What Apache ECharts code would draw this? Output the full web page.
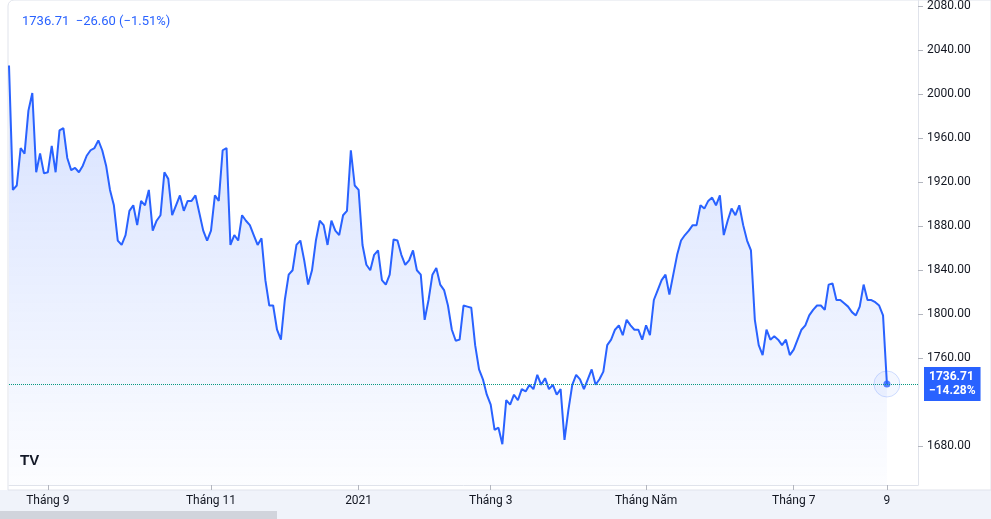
<!DOCTYPE html>
<html><head><meta charset="utf-8">
<script src="https://cdn.jsdelivr.net/npm/echarts@6/dist/echarts.min.js"></script>
<style>html,body{margin:0;padding:0;background:#fff}#c{width:991px;height:519px}</style>
</head><body><div id="c"></div>
<script>
const values = [2026,1913,1917,1951,1946,1985,2001,1929,1946,1928,1929,1953,1929,1967,1969,1942,1931,1933,1929,1935,1944,1949,1951,1958,1949,1935,1913,1899,1867,1863,1872,1894,1899,1881,1903,1899,1913,1876,1885,1890,1929,1923,1890,1899,1908,1894,1903,1903,1908,1892,1876,1867,1876,1908,1903,1949,1951,1863,1872,1867,1890,1885,1881,1872,1863,1869,1831,1808,1808,1786,1777,1813,1836,1840,1863,1867,1849,1827,1840,1867,1885,1881,1863,1885,1876,1872,1890,1894,1949,1917,1913,1863,1845,1840,1854,1858,1831,1827,1836,1868,1867,1854,1845,1849,1858,1840,1836,1795,1813,1836,1842,1827,1822,1808,1786,1776,1777,1808,1807,1806,1772,1750,1741,1727,1718,1695,1697,1682,1722,1718,1727,1722,1732,1730,1736,1732,1745,1736,1742,1732,1736,1727,1732,1686,1713,1736,1745,1741,1732,1741,1750,1736,1741,1748,1772,1777,1786,1790,1781,1795,1790,1786,1786,1777,1790,1781,1813,1822,1831,1836,1818,1836,1854,1867,1872,1876,1881,1881,1899,1896,1903,1906,1899,1908,1872,1885,1896,1890,1899,1881,1867,1858,1795,1772,1763,1786,1777,1780,1777,1772,1777,1763,1768,1777,1786,1790,1799,1804,1808,1808,1804,1827,1828,1813,1813,1810,1807,1802,1799,1807,1827,1813,1813,1811,1808,1799,1736.71];
const tickLabels = ['Tháng 9','Tháng 11','2021','Tháng 3','Tháng Năm','Tháng 7','9'];
const tickFractions = [0.043,0.231,0.399,0.549,0.727,0.895,1.0];
const N = values.length;
const categories = values.map((v,i)=>i);
const tickIdx = tickFractions.map(f=>Math.round(f*(N-1)));
const last = values[N-1];
const chart = echarts.init(document.getElementById('c'));
chart.setOption({
  animation:false,
  title:{text:'1736.71  −26.60 (−1.51%)',left:17,top:10,textStyle:{color:'#2962ff',fontSize:13,fontWeight:'normal',fontFamily:'Roboto, sans-serif'}},
  grid:{left:9,right:73,top:0,bottom:34},
  xAxis:{type:'category',data:categories,boundaryGap:false,max:N-1+Math.round((N-1)*0.034),
    axisLine:{show:true,lineStyle:{color:'#e0e3eb'}},
    axisTick:{show:true,alignWithLabel:true,interval:(i)=>tickIdx.includes(i),lineStyle:{color:'#b2b5be'}},
    axisLabel:{interval:(i)=>tickIdx.includes(i),formatter:(v)=>tickLabels[tickIdx.indexOf(+v)]||'',color:'#131722',fontSize:12,margin:10,fontFamily:'Roboto, sans-serif'},
    splitLine:{show:false}},
  yAxis:{type:'value',position:'right',min:1645,max:2085,
    axisLine:{show:true,lineStyle:{color:'#e0e3eb'}},
    axisTick:{show:true,customValues:[1680,1760,1800,1840,1880,1920,1960,2000,2040,2080],lineStyle:{color:'#b2b5be'},length:5},
    axisLabel:{customValues:[1680,1760,1800,1840,1880,1920,1960,2000,2040,2080],formatter:v=>v.toFixed(2),color:'#131722',fontSize:12,margin:9,fontFamily:'Roboto, sans-serif'},
    splitLine:{show:false}},
  series:[{type:'line',data:values,showSymbol:false,symbol:'none',
    lineStyle:{color:'#2962ff',width:2},
    areaStyle:{color:new echarts.graphic.LinearGradient(0,0,0,1,[{offset:0,color:'rgba(41,98,255,0.28)'},{offset:1,color:'rgba(41,98,255,0.02)'}])},
    markLine:{symbol:'none',silent:true,data:[{yAxis:last}],
      lineStyle:{color:'#089981',type:'dotted',width:1},
      label:{show:true,position:'end',distance:6,formatter:'1736.71\n−14.28%',backgroundColor:'#2962ff',color:'#fff',fontSize:12,fontWeight:'bold',padding:[3,5,3,5],lineHeight:14,fontFamily:'Roboto, sans-serif'}},
    markPoint:{symbol:'circle',symbolSize:26,silent:true,data:[{coord:[N-1,last]}],itemStyle:{color:'rgba(41,98,255,0.05)',borderColor:'rgba(41,98,255,0.2)',borderWidth:1},label:{show:false}}
  },{type:'scatter',data:[[N-1,last]],symbolSize:7,itemStyle:{color:'#2962ff'},silent:true}],
  graphic:[
    {type:'rect',shape:{x:0,y:490,width:991,height:29},style:{fill:'#f0f3fa'}},
    {type:'rect',shape:{x:0,y:511,width:277,height:8},style:{fill:'#d1d4dc'}},
    {type:'rect',shape:{x:8,y:0,width:983,height:490,r:[6,0,0,0]},style:{fill:'none',stroke:'#e0e3eb'}},
    {type:'text',left:20,top:453,style:{text:'TV',font:'bold 15px sans-serif',fill:'#131722'}}
  ]
});
</script></body></html>
